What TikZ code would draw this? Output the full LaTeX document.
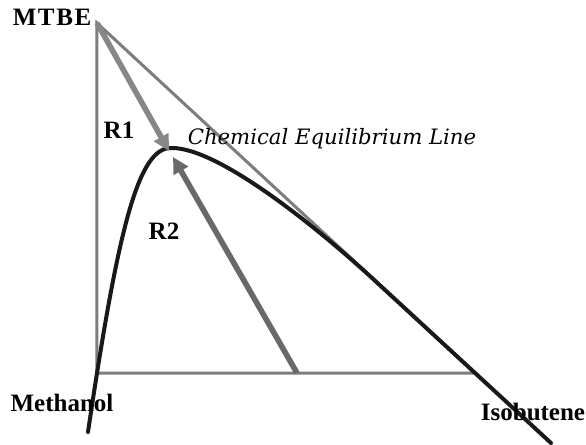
\documentclass[tikz,border=0pt]{standalone}
\usepackage{fontspec}
\setmainfont{Liberation Serif}
\newfontfamily\eqfont{DejaVu Serif}
\usetikzlibrary{arrows.meta}
\definecolor{sidegray}{RGB}{125,125,125}
\definecolor{arrowA}{RGB}{135,135,135}
\definecolor{arrowB}{RGB}{105,105,105}
\tikzset{
  side/.style={draw=sidegray, line width=1.5pt},
  rarrow/.style={line width=2.8pt, -{Triangle[length=8pt,width=8pt]}},
  eqcurve/.style={draw=black!90, line width=2pt, line cap=round},
  vlabel/.style={font=\fontsize{12.5}{14}\selectfont\bfseries, inner sep=0pt},
  rlabel/.style={font=\fontsize{12.5}{14}\selectfont\bfseries, inner sep=0pt},
}
\begin{document}
\begin{tikzpicture}[x=0.5pt, y=-0.5pt]
\useasboundingbox (0,0) rectangle (586,445);
\coordinate (mtbe) at (97,23);
\coordinate (meth) at (97,373);
\coordinate (iso) at (475,373);
\coordinate (r2start) at (297,373);
\coordinate (tip1) at (169,151);
\coordinate (tip2) at (173,157);
\coordinate (cstart) at (88,432);
\coordinate (peak) at (172,148);
\coordinate (merge) at (378,283.5);
\coordinate (cend) at (551,443);
% triangle
\draw[side, line join=miter] (mtbe) -- (meth) -- (iso) -- cycle;
% equilibrium curve
\draw[eqcurve] (cstart) .. controls (118,230) and (138,146) .. (peak)
  .. controls (218,148) and (315,225) .. (merge) -- (cend);
% arrows
\draw[rarrow, arrowA] (mtbe) -- (tip1);
\draw[rarrow, arrowB] (r2start) -- (tip2);
% labels
\node[vlabel] (lmtbe) at (52,17) {M\kern0.8pt T\kern0.8pt B\kern0.8pt E};
\node[vlabel] (lmeth) at (62,403) {Methanol};
\node[vlabel] (liso) at (533,412) {Isobutene};
\node[rlabel] (lr1) at (119,130) {R1};
\node[rlabel] (lr2) at (164,231) {R2};
\node[inner sep=0pt, font=\eqfont\itshape\fontsize{10.6}{12}\selectfont] (leq) at (332,139) {Chemical Equilibrium Line};
\end{tikzpicture}
\end{document}
